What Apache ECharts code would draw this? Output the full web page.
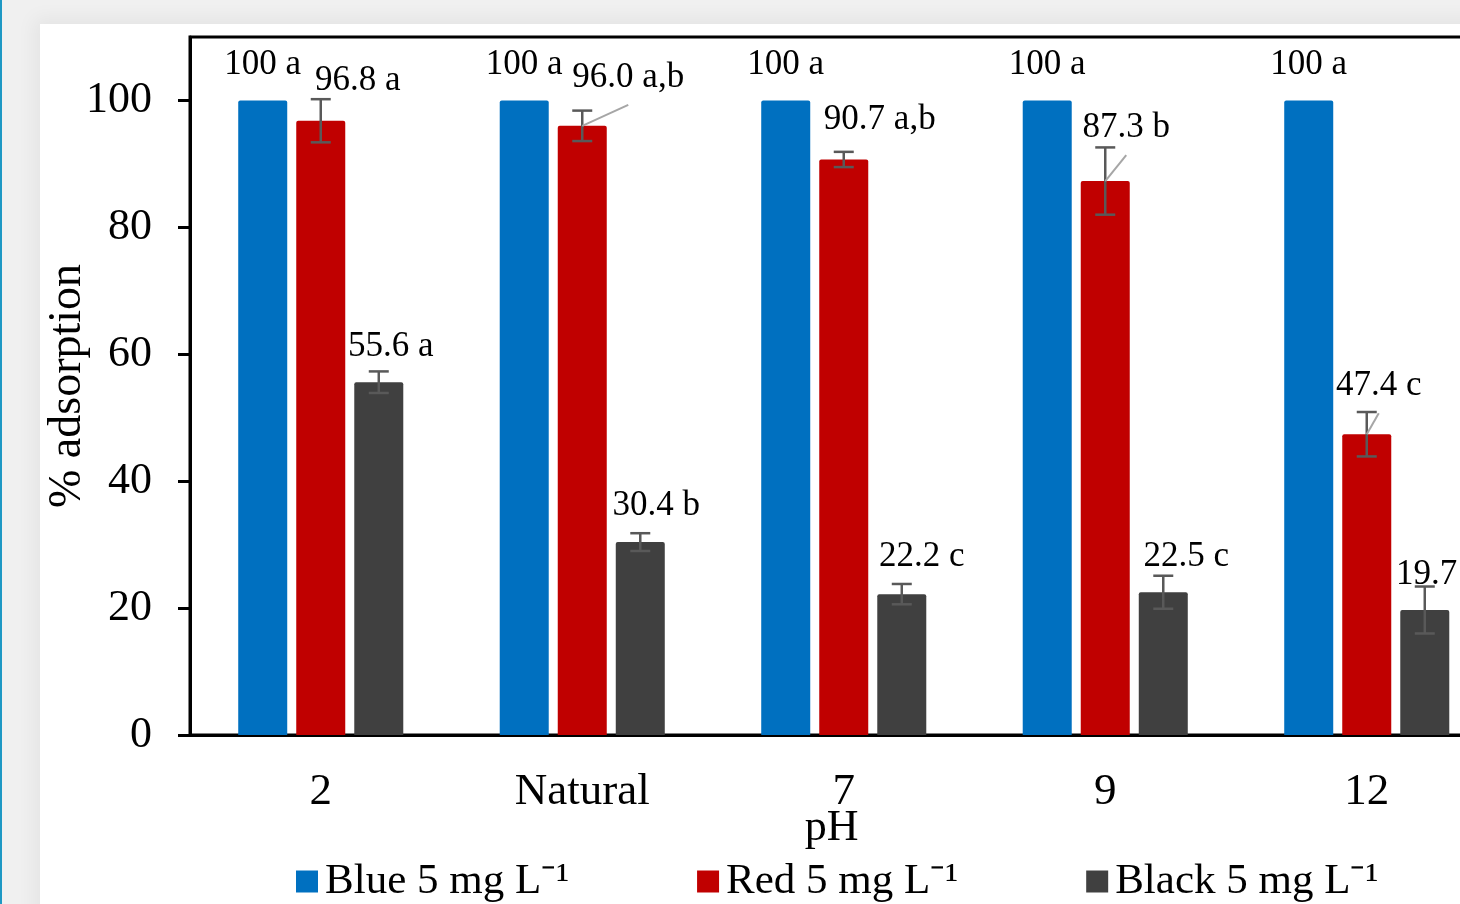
<!DOCTYPE html>
<html>
<head>
<meta charset="utf-8">
<script src="https://cdn.jsdelivr.net/npm/echarts@6/dist/echarts.min.js"></script>
<style>
  html, body { margin: 0; padding: 0; width: 1460px; height: 904px; overflow: hidden; background: #f0f0f0; }
  #edge { position: absolute; left: 0; top: 0; width: 2px; height: 904px; background: #1e98c4; }
  #page { position: absolute; left: 40px; top: 24px; width: 1440px; height: 900px; background: #ffffff; box-shadow: 0 0 18px 6px rgba(0,0,0,0.05); }
  #chart { position: absolute; left: 0; top: 0; width: 1460px; height: 904px; }
</style>
</head>
<body>
<div id="edge"></div>
<div id="page"></div>
<div id="chart"></div>
<script>
// ---- data ----
const categories = ['2', 'Natural', '7', '9', '12'];
const seriesNames = ['Blue 5 mg L\u207B\u00B9', 'Red 5 mg L\u207B\u00B9', 'Black 5 mg L\u207B\u00B9'];
const blueValues = [100, 100, 100, 100, 100];
const redValues = [96.8, 96.0, 90.7, 87.3, 47.4];
const blackValues = [55.6, 30.4, 22.2, 22.5, 19.7];
const redErrors = [3.4, 2.4, 1.2, 5.3, 3.5];
const blackErrors = [1.7, 1.4, 1.6, 2.6, 3.7];
const blueLetters = ['a', 'a', 'a', 'a', 'a'];
const redLetters = ['a', 'a,b', 'a,b', 'b', 'c'];
const blackLetters = ['a', 'b', 'c', 'c', 'c'];
const yTicks = [0, 20, 40, 60, 80, 100];

// ---- styling / layout ----
const FONT = "'Liberation Serif', 'Times New Roman', serif";
const colors = ['#0070c0', '#c00000', '#404040'];
const BAR_W = 0.1874;   // fraction of band
const BAR_GAP = 0.184;  // fraction of bar width
const labelOffsets = [
  [[0,-19],[0,-19],[0,-19],[0,-19],[0,-19]],
  [[37,-23],[46,-31],[36,-23],[21,-36],[12,-31]],
  [[12,-18],[16,-19],[20,-20],[23,-18],[14,-18]]
];
const leaderShown = [
  [false,false,false,false,false],
  [false,true,false,true,true],
  [false,false,false,false,false]
];
const LABEL_LH = 34;

function fmtVal(v) { return v === 100 ? '100' : v.toFixed(1); }

function barSeries(idx, values, letters) {
  return {
    name: seriesNames[idx],
    type: 'bar',
    barWidth: (BAR_W * 100) + '%',
    barGap: (BAR_GAP * 100) + '%',
    itemStyle: { color: colors[idx], borderRadius: [2, 2, 0, 0] },
    data: values.map((v, i) => ({
      value: v,
      label: { offset: labelOffsets[idx][i] }
    })),
    label: {
      show: true,
      position: 'top',
      distance: 0,
      fontFamily: FONT,
      fontSize: 35,
      lineHeight: LABEL_LH,
      color: '#000',
      formatter: p => fmtVal(values[p.dataIndex]) + ' ' + letters[p.dataIndex]
    },
    z: 2
  };
}

function barOffset(api, k) {
  const band = api.size([1, 0])[0];
  const w = band * BAR_W;
  return k * (w + w * BAR_GAP);
}

function errorSeries(k, values, errs) {
  return {
    type: 'custom',
    z: 5,
    silent: true,
    data: values.map((v, i) => [i, v, errs[i]]),
    encode: { x: 0, y: 1 },
    renderItem: function (params, api) {
      const i = api.value(0), v = api.value(1), e = api.value(2);
      const dx = barOffset(api, k);
      const top = api.coord([i, v + e]);
      const bot = api.coord([i, v - e]);
      const x = top[0] + dx;
      const cap = 10;
      const style = { stroke: '#595959', lineWidth: 2.5 };
      return {
        type: 'group',
        children: [
          { type: 'line', shape: { x1: x, y1: top[1], x2: x, y2: bot[1] }, style },
          { type: 'line', shape: { x1: x - cap, y1: top[1], x2: x + cap, y2: top[1] }, style },
          { type: 'line', shape: { x1: x - cap, y1: bot[1], x2: x + cap, y2: bot[1] }, style }
        ]
      };
    }
  };
}

function leaderSeries(idx, k, values) {
  return {
    type: 'custom',
    z: 6,
    silent: true,
    data: values.map((v, i) => [i, v]),
    encode: { x: 0, y: 1 },
    renderItem: function (params, api) {
      const i = api.value(0), v = api.value(1);
      if (!leaderShown[idx][i]) return null;
      const p = api.coord([i, v]);
      const x = p[0] + barOffset(api, k);
      const off = labelOffsets[idx][i];
      const ly = p[1] - LABEL_LH / 2 + off[1] + 27;
      return {
        type: 'line',
        shape: { x1: x, y1: p[1], x2: x + off[0], y2: ly },
        style: { stroke: '#a6a6a6', lineWidth: 2 }
      };
    }
  };
}

const chart = echarts.init(document.getElementById('chart'), null, { renderer: 'canvas' });
chart.setOption({
  animation: false,
  backgroundColor: 'transparent',
  textStyle: { fontFamily: FONT },
  grid: {
    left: 190, top: 37, width: 1307.5, height: 698,
    outerBoundsMode: 'none',
    containLabel: false,
    show: true, borderColor: '#000', borderWidth: 3, backgroundColor: '#fff'
  },
  legend: {
    left: 291, top: 855,
    itemWidth: 22, itemHeight: 22, itemGap: 128,
    icon: 'rect',
    textStyle: { fontFamily: FONT, fontSize: 43, color: '#000', padding: [0, 0, 0, 2] },
    data: seriesNames
  },
  xAxis: {
    type: 'category',
    data: categories,
    name: 'pH',
    nameLocation: 'middle',
    nameGap: 71,
    nameMoveOverlap: false,
    nameTextStyle: { fontFamily: FONT, fontSize: 44, color: '#000', padding: [0, 24, 0, 0] },
    axisLine: { lineStyle: { color: '#000', width: 3 } },
    axisTick: { show: false },
    axisLabel: { fontFamily: FONT, fontSize: 45, color: '#000', margin: 35 }
  },
  yAxis: {
    type: 'value',
    min: 0, max: 110, interval: 20,
    name: '% adsorption',
    nameLocation: 'middle',
    nameRotate: 90,
    nameGap: 99,
    nameMoveOverlap: false,
    nameTextStyle: { fontFamily: FONT, fontSize: 46, color: '#000' },
    axisLine: { show: true, lineStyle: { color: '#000', width: 3 } },
    axisTick: { show: true, length: 12, lineStyle: { color: '#000', width: 3 }, customValues: yTicks },
    axisLabel: { fontFamily: FONT, fontSize: 44, color: '#000', margin: 38, customValues: yTicks },
    splitLine: { show: false }
  },
  series: [
    barSeries(0, blueValues, blueLetters),
    barSeries(1, redValues, redLetters),
    barSeries(2, blackValues, blackLetters),
    errorSeries(0, redValues, redErrors),
    errorSeries(1, blackValues, blackErrors),
    leaderSeries(1, 0, redValues)
  ]
});
</script>
</body>
</html>
